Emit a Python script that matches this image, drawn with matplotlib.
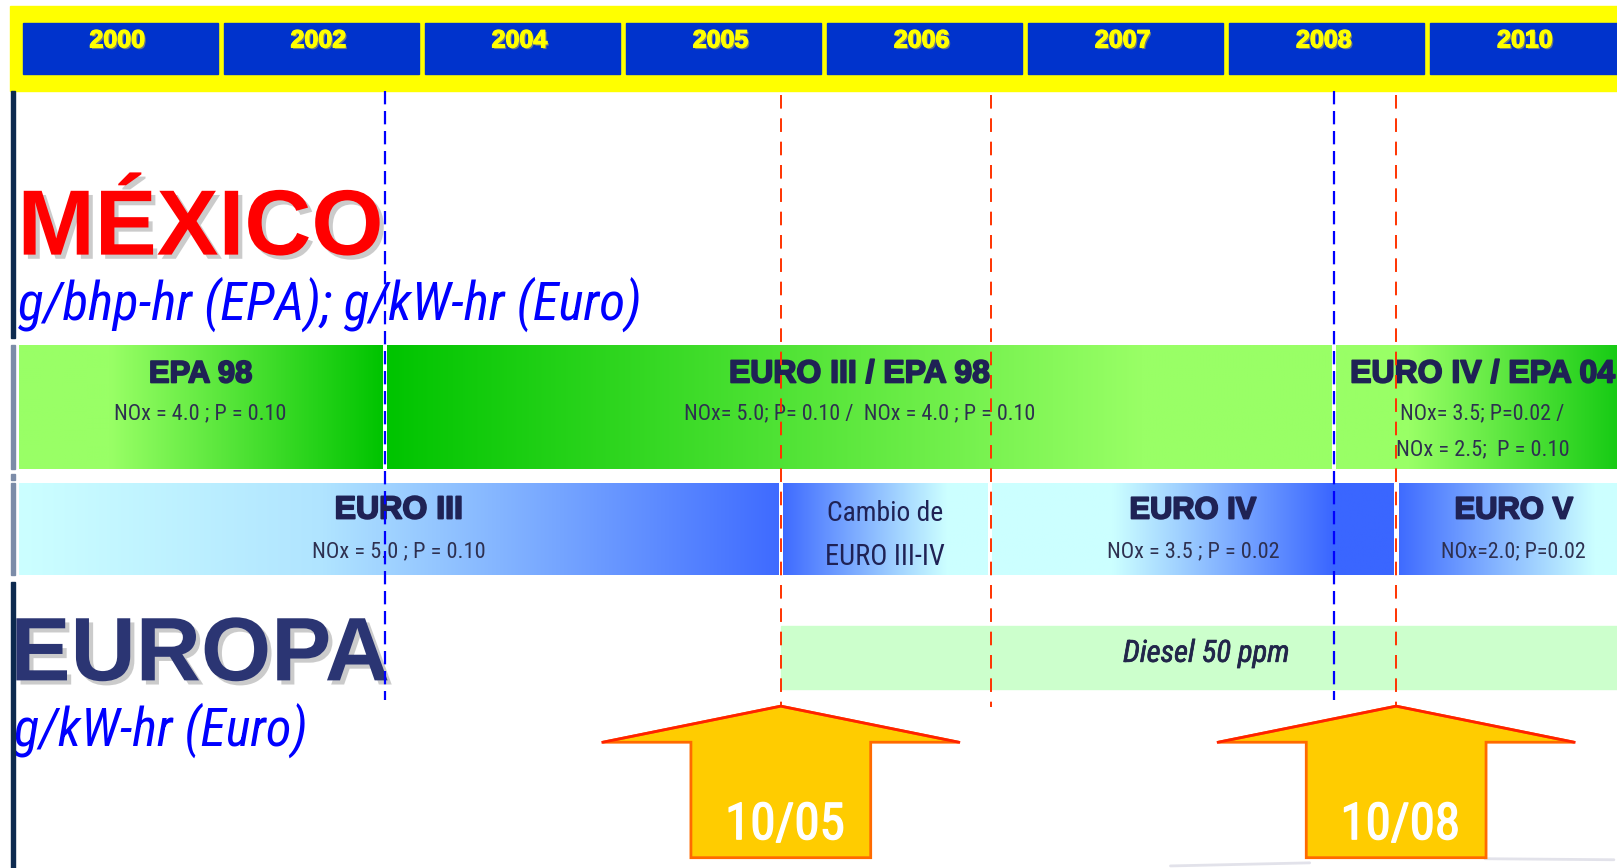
import numpy as np
import matplotlib
matplotlib.use("Agg")
import matplotlib.pyplot as plt
from matplotlib import patheffects as pe, font_manager as fm
from matplotlib.patches import Rectangle, Polygon
from matplotlib.colors import to_rgb

# ---------------- data ----------------
years = ['2000', '2002', '2004', '2005', '2006', '2007', '2008', '2010']

# timeline positions are in "year-column" units (column i = box of years[i])
mexico_bounds = [-0.03, 1.80, 6.52, 8.0]
mexico_titles = ['EPA 98', 'EURO III / EPA 98', 'EURO IV / EPA 04']
mexico_limits = [['NOx = 4.0 ; P = 0.10'],
                 ['NOx= 5.0; P= 0.10 /  NOx = 4.0 ; P = 0.10'],
                 ['NOx= 3.5; P=0.02 /', 'NOx = 2.5;  P = 0.10']]

europe_bounds = [-0.03, 3.77, 4.81, 6.83, 8.0]
europe_titles = ['EURO III', 'Cambio de\nEURO III-IV', 'EURO IV', 'EURO V']
europe_limits = ['NOx = 5.0 ; P = 0.10', '', 'NOx = 3.5 ; P = 0.02', 'NOx=2.0; P=0.02']

diesel_span = [3.77, 8.0]
diesel_label = 'Diesel 50 ppm'

blue_lines = [1.80, 6.52]
red_lines = [3.77, 4.815, 6.83]

arrow_pos = [3.77, 6.83]
arrow_labels = ['10/05', '10/08']

# ---------------- styles / layout ----------------
W, H = 1617, 868
SW, SH = 1568, 842          # layout reference grid
PX0, PITCH = 22, 195


def U(px):
    return (px - PX0) / PITCH


XL, XR = U(0), U(SW)

names = {f.name for f in fm.fontManager.ttflist}
NARROW = next((n for n in ['Liberation Sans Narrow', 'Arial Narrow', 'Roboto Condensed',
                           'Open Sans Condensed'] if n in names), None)
if NARROW:
    COND = dict(family=NARROW)
elif any(f.name == 'DejaVu Sans' and f.stretch == 'condensed' for f in fm.fontManager.ttflist):
    COND = dict(family='DejaVu Sans', stretch='condensed')
else:
    COND = dict(family='Liberation Sans')
BOLD = dict(family='Liberation Sans', weight='bold')

fig = plt.figure(figsize=(W / 100, H / 100), dpi=100)
ax = fig.add_axes([0, 0, 1, 1])
ax.axis('off')
ax.set_xlim(XL, XR)
ax.set_ylim(SH, 0)
renderer = fig.canvas.get_renderer()


def fit_text(x, y, s, size, width_ref, **kw):
    kw.setdefault('ha', 'center')
    kw.setdefault('va', 'baseline')
    t = ax.text(x, y, s, fontsize=size, **kw)
    if width_ref:
        w = t.get_window_extent(renderer).width
        target = width_ref * W / SW
        t.set_fontsize(size * min(target / w, 1.1))
    return t


def gradient(x0, x1, y0, y1, stops, z=1):
    n = 256
    pos = np.linspace(0, 1, n)
    sp = [s[0] for s in stops]
    cols = np.array([to_rgb(s[1]) for s in stops])
    img = np.stack([np.interp(pos, sp, cols[:, k]) for k in range(3)], axis=-1)[None, :, :]
    ax.imshow(img, extent=(x0, x1, y1, y0), aspect='auto', interpolation='bilinear', zorder=z)


NAVY = '#1F2255'
LIMC = '#2E3050'
heavy = [pe.withStroke(linewidth=1.3, foreground=NAVY)]

# header
ax.add_patch(Rectangle((U(10), 6), XR + 1 - U(10), 82, color='#FFFF00', zorder=1))
year_fx = [pe.withSimplePatchShadow(offset=(1.2, -1.2), shadow_rgbFace='#8A8A6A', alpha=0.8),
           pe.withStroke(linewidth=0.9, foreground='#FFFF00')]
for i, yr in enumerate(years):
    ax.add_patch(Rectangle((i, 22), 0.97, 50, color='#0033CC', zorder=2))
    ax.text(i + 0.47, 46, yr, fontsize=18, color='#FFFF00', ha='center', va='baseline',
            zorder=3, path_effects=year_fx, **BOLD)

# left bar
for y0, y1, c in [(88, 328, '#0D2A4F'), (335, 455, '#7C8CA8'), (460, 466, '#7C8CA8'),
                  (469, 558, '#7C8CA8'), (565, SH, '#0D2A4F')]:
    ax.add_patch(Rectangle((U(11), y0), 4 / PITCH, y1 - y0, color=c, zorder=7))

# country titles
big_shadow = [pe.withSimplePatchShadow(offset=(3, -3), shadow_rgbFace='#999999', alpha=0.5)]
fit_text(U(17), 247, 'MÉXICO', 64, 355, color='#FF0000', ha='left', zorder=4,
         path_effects=big_shadow, **BOLD)
fit_text(U(17), 310, 'g/bhp-hr (EPA); g/kW-hr (Euro)', 42, 605, color='#0000FF',
         style='italic', ha='left', zorder=4, **COND)
fit_text(U(10), 660, 'EUROPA', 64, 368, color='#2B3573', ha='left', zorder=4,
         path_effects=big_shadow, **BOLD)
fit_text(U(14), 723, 'g/kW-hr (Euro)', 42, 285, color='#0000FF',
         style='italic', ha='left', zorder=4, **COND)

# Mexico row
GL, GD = '#99FF66', '#00C400'
mex_stops = [[(0, GL), (0.25, GL), (1, GD)],
             [(0, GD), (0.8, GL), (1, GL)],
             [(0, GL), (0.25, GL), (1, '#10C810')]]
mex_title_w = [100, 253, 257]
mex_lim_w = [[167], [340], [159, 168]]
gap = 0.012
for k in range(len(mexico_titles)):
    x0, x1 = mexico_bounds[k] + gap, mexico_bounds[k + 1] - gap
    gradient(x0, x1, 335, 455, mex_stops[k])
    cx = (mexico_bounds[k] + mexico_bounds[k + 1]) / 2
    fit_text(cx, 371, mexico_titles[k], 21, mex_title_w[k], color=NAVY, zorder=4,
             path_effects=heavy, **BOLD)
    for j, line in enumerate(mexico_limits[k]):
        fit_text(cx, 407 + 35 * j, line, 17, mex_lim_w[k][j], color=LIMC, zorder=4, **COND)

# Europe row
CY, BL = '#CCFFFF', '#3F6BFF'
eu_stops = [[(0, CY), (0.4, '#B0E4FF'), (1, BL)],
            [(0, BL), (0.8, CY), (1, CY)],
            [(0, CY), (0.3, CY), (0.85, '#3A66FF'), (1, '#3A66FF')],
            [(0, BL), (0.85, CY), (1, CY)]]
eu_title_w = [125, 0, 123, 115]
eu_lim_w = [168, 0, 167, 140]
for k in range(len(europe_titles)):
    x0, x1 = europe_bounds[k] + gap, europe_bounds[k + 1] - gap
    gradient(x0, x1, 469, 558, eu_stops[k])
    cx = (europe_bounds[k] + europe_bounds[k + 1]) / 2
    if europe_limits[k]:
        fit_text(cx, 503, europe_titles[k], 21, eu_title_w[k], color=NAVY, zorder=4,
                 path_effects=heavy, **BOLD)
        fit_text(cx, 541, europe_limits[k], 17, eu_lim_w[k], color=LIMC, zorder=4, **COND)
    else:
        l1, l2 = europe_titles[k].split('\n')
        fit_text(cx, 505, l1, 20, 113, color=NAVY, zorder=4, **COND)
        fit_text(cx, 548, l2, 20, 117, color=NAVY, zorder=4, **COND)

# Diesel band
ax.add_patch(Rectangle((diesel_span[0], 607), diesel_span[1] - diesel_span[0], 61,
                       color='#CCFFCC', zorder=1))
fit_text(sum(diesel_span) / 2, 642, diesel_label, 20, 178, color='#22264A',
         style='italic', zorder=4, path_effects=[pe.withStroke(linewidth=0.5, foreground='#22264A')],
         **COND)

# dashed lines
for x in blue_lines:
    ax.plot([x, x], [88, 679], color='#0000FF', lw=1.6, ls=(0, (6, 3)), zorder=5)
for x in red_lines:
    ax.plot([x, x], [92, 686], color='#FF3300', lw=1.4, ls=(0, (7, 5)), zorder=5)

# faint shadow strokes at the bottom
ax.plot([U(1135), U(1270)], [840, 837], color='#E2E2EA', lw=2, zorder=1, solid_capstyle='round')
ax.plot([U(1440), U(1565)], [833, 834], color='#E2E2EA', lw=2, zorder=1, solid_capstyle='round')

# arrows
HW, SWD = 0.885, 0.447
for x, lab in zip(arrow_pos, arrow_labels):
    pts = [(x - HW, 720), (x, 685), (x + HW, 720), (x + SWD, 720), (x + SWD, 832),
           (x - SWD, 832), (x - SWD, 720)]
    ax.add_patch(Polygon(pts, closed=True, facecolor='#FFCC00', edgecolor='#FF6A00',
                         lw=2, zorder=6, joinstyle='miter'))
    ax.plot([x - HW, x, x + HW], [720, 685, 720], color='#FF2200', lw=2, zorder=6)
    fit_text(x + 0.02, 814, lab, 50, 116, color='white', zorder=7,
             path_effects=[pe.withStroke(linewidth=1.0, foreground='white')], **COND)

ax.set_xlim(XL, XR)
ax.set_ylim(SH, 0)
fig.savefig('out.png', dpi=100, facecolor='white')
